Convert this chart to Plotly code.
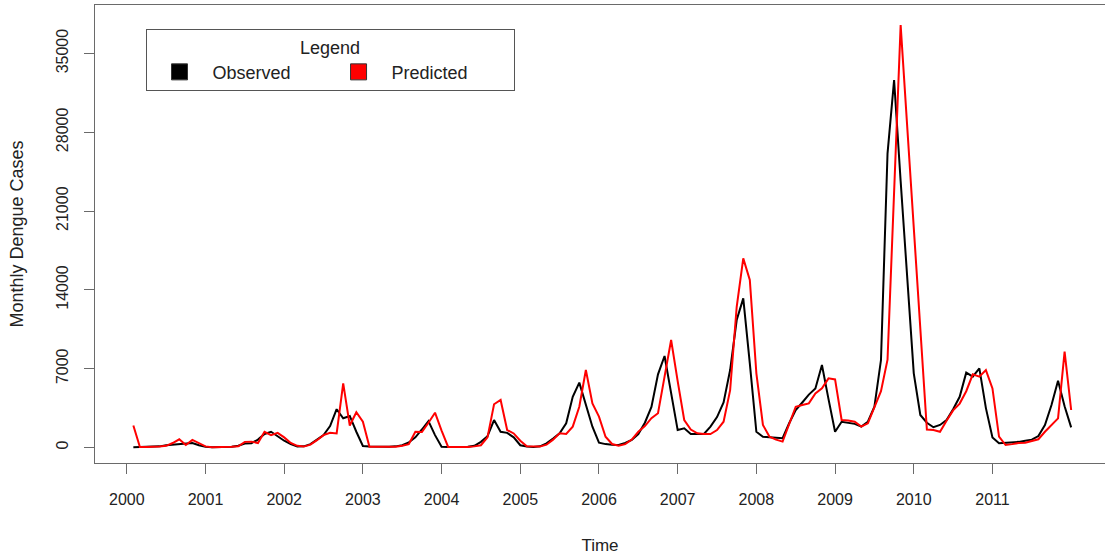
import plotly.graph_objects as go

# Monthly index starts at Feb 2000 (2000 + 1/12) and ends Jan 2012
start_year = 2000
n_months = 144

observed = [
    30, 40, 50, 60, 100, 200, 250, 350, 350, 400, 200, 60,
    30, 30, 40, 60, 150, 350, 380, 700, 1200, 1400, 1000, 600,
    300, 80, 100, 300, 700, 1100, 1900, 3400, 2600, 2800, 1400, 130,
    80, 60, 50, 60, 100, 200, 450, 900, 1600, 2350, 1100, 60,
    50, 40, 40, 60, 150, 500, 1000, 2440, 1400, 1300, 900, 200,
    80, 50, 100, 370, 800, 1260, 2150, 4510, 5760, 3800, 1850, 430,
    300, 250, 220, 400, 670, 1200, 2200, 3600, 6500, 8130, 4800, 1550,
    1700, 1200, 1200, 1200, 1850, 2700, 4000, 6880, 11320, 13250, 7480, 1400,
    960, 900, 850, 820, 2150, 3330, 4000, 4700, 5250, 7330, 4300, 1400,
    2290, 2200, 2100, 1850, 2290, 3620, 7770, 26130, 32640, 23660, 14690, 6590,
    2890, 2200, 1800, 2000, 2440, 3400, 4500, 6650, 6290, 7030, 3500, 900,
    370, 400, 430, 500, 600, 700, 1020, 2000, 3770, 5930, 3670, 1790,
]

predicted = [
    1950, 50, 50, 50, 80, 150, 400, 730, 220, 670, 350, 100,
    20, 20, 30, 60, 100, 500, 520, 400, 1400, 1100, 1300, 900,
    400, 150, 80, 250, 650, 1100, 1300, 1250, 5700, 1950, 3130, 2290,
    60, 50, 40, 40, 60, 150, 300, 1400, 1380, 2200, 3090, 1500,
    50, 40, 30, 40, 100, 200, 900, 3840, 4220, 1550, 1250, 600,
    100, 60, 80, 250, 700, 1260, 1200, 1850, 3620, 6880, 3920, 2740,
    960, 310, 160, 300, 700, 1400, 1900, 2600, 3040, 6300, 9550, 5900,
    2440, 1600, 1260, 1200, 1200, 1550, 2290, 5100, 12500, 16800, 14880, 6590,
    2000, 960, 700, 520, 2000, 3620, 3770, 3920, 4810, 5250, 6140, 6050,
    2440, 2400, 2290, 1850, 2150, 3500, 5000, 7800, 23000, 37520, 28500, 19500,
    10500, 1600, 1550, 1400, 2380, 3300, 3900, 5000, 6500, 6290, 6880, 5250,
    960, 220, 300, 400, 430, 550, 730, 1400, 2000, 2590, 8510, 3330,
]

time = [start_year + (i + 1) / 12 for i in range(n_months)]

year_ticks = list(range(2000, 2012))
y_ticks = [0, 7000, 14000, 21000, 28000, 35000]
legend_labels = ["Observed", "Predicted"]

FONT = "Liberation Sans, Arial, Helvetica, sans-serif"
AXIS_COL = "#6a6a6a"
PADS = ["\u00a0" * 6, "\u00a0" * 8]

fig = go.Figure()
fig.add_trace(go.Scatter(x=time, y=observed, mode="lines",
                         line=dict(color="black", width=2), showlegend=False,
                         name=legend_labels[0]))
fig.add_trace(go.Scatter(x=time, y=predicted, mode="lines",
                         line=dict(color="#ff0000", width=2), showlegend=False,
                         name=legend_labels[1]))
# legend entries drawn as filled boxes (like R's legend(fill=...))
for label, col, pad in zip(legend_labels, ["black", "#ff0000"], PADS):
    fig.add_trace(go.Scatter(x=[None], y=[None], mode="markers", name=label + pad,
                             marker=dict(symbol="square", size=17, color=col,
                                         line=dict(color="#333", width=1))))

fig.update_layout(
    width=1105, height=556,
    margin=dict(l=95, r=0, t=5, b=93),
    paper_bgcolor="white", plot_bgcolor="white",
    font=dict(family=FONT, size=17, color="#222"),
    legend=dict(
        orientation="h",
        x=0.05, y=0.947, xanchor="left", yanchor="top",
        bordercolor="#555", borderwidth=1, bgcolor="white",
        title=dict(text="Legend", side="top center", font=dict(size=18)),
        itemwidth=56,
        font=dict(size=18),
    ),
    xaxis=dict(
        range=[1999.596, 2012.43],
        tickmode="array", tickvals=year_ticks,
        ticktext=[str(y) for y in year_ticks],
        ticks="outside", ticklen=10, tickcolor=AXIS_COL, tickwidth=1,
        showline=True, linecolor=AXIS_COL, linewidth=1, mirror=True,
        showgrid=False, zeroline=False,
        tickfont=dict(size=16), ticklabelstandoff=12,
        title=dict(text="Time", font=dict(size=17), standoff=31),
    ),
    yaxis=dict(
        range=[-1377, 39307],
        tickmode="array", tickvals=y_ticks,
        ticktext=[str(v) for v in y_ticks],
        ticks="outside", ticklen=10, tickcolor=AXIS_COL, tickwidth=1,
        showline=True, linecolor=AXIS_COL, linewidth=1, mirror=False,
        showgrid=False, zeroline=False,
        tickangle=-90, tickfont=dict(size=16), ticklabelstandoff=10,
        title=dict(text="Monthly Dengue Cases", font=dict(size=18), standoff=25),
    ),
)

fig.write_html("out.html")
